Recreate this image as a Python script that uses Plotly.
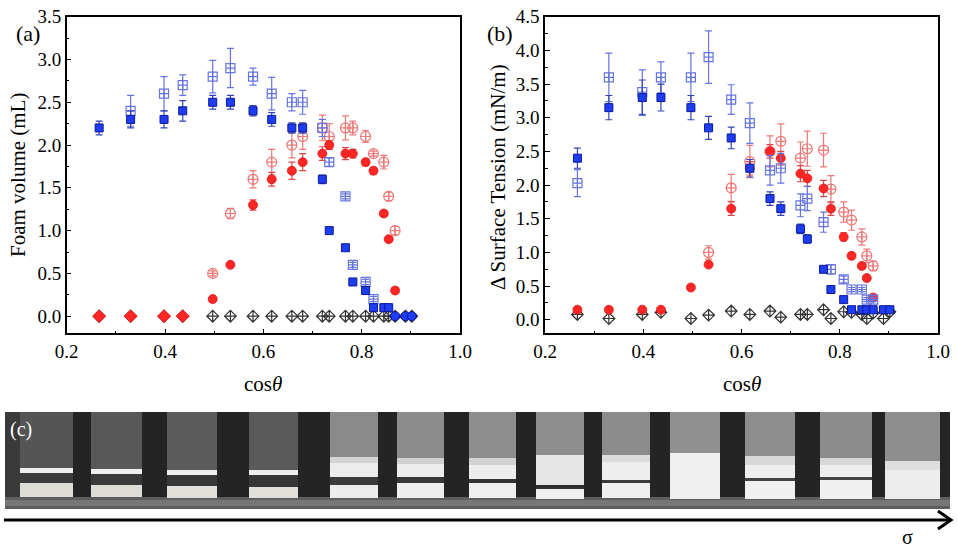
import plotly.graph_objects as go

W, H = 957, 548

# cos(theta) of the 21 samples
cos_theta = [0.266, 0.330, 0.398, 0.436, 0.497, 0.533, 0.579, 0.617, 0.658, 0.680, 0.720,
             0.734, 0.767, 0.782, 0.808, 0.824, 0.845, 0.855, 0.868, 0.889, 0.902]

# (a) foam volume (mL)
foam_blue = [2.2, 2.3, 2.3, 2.4, 2.5, 2.5, 2.4, 2.3, 2.2, 2.2, 1.6,
             1.0, 0.8, 0.4, 0.3, 0.1, 0.1, 0.1, 0.0, 0.0, 0.0]
foam_blue_err = [0.08, 0.1, 0.1, 0.12, 0.08, 0.08, 0.06, 0.08, 0.06, 0.06, 0.05,
                 0.03, 0.02, 0.02, 0.02, 0.02, 0.02, 0.02, 0, 0, 0]
foam_blue_open = [None, 2.4, 2.6, 2.7, 2.8, 2.9, 2.8, 2.6, 2.5, 2.5, 2.2,
                  1.8, 1.4, 0.6, 0.4, 0.2, None, None, None, None, None]
foam_blue_open_err = [0, 0.18, 0.2, 0.12, 0.19, 0.23, 0.1, 0.19, 0.1, 0.14, 0.1,
                      0.05, 0.03, 0.03, 0.03, 0.03, 0, 0, 0, 0, 0]
foam_red = [0.0, 0.0, 0.0, 0.0, 0.2, 0.6, 1.3, 1.6, 1.7, 1.8, 1.9,
            2.0, 1.9, 1.9, 1.8, 1.7, 1.2, 0.9, 0.3, None, None]
foam_red_err = [0, 0, 0, 0, 0.02, 0.03, 0.06, 0.08, 0.1, 0.1, 0.08,
                0.05, 0.07, 0.05, 0.04, 0.04, 0.03, 0.03, 0.03, 0, 0]
foam_red_open = [None, None, None, None, 0.5, 1.2, 1.6, 1.8, 2.0, 2.1, 2.2,
                 2.1, 2.2, 2.2, 2.1, 1.9, 1.8, 1.4, 1.0, None, None]
foam_red_open_err = [0, 0, 0, 0, 0.03, 0.06, 0.1, 0.15, 0.15, 0.15, 0.15,
                     0.15, 0.14, 0.08, 0.07, 0.03, 0.08, 0.05, 0.05, 0, 0]
foam_black = [0.0] * 21

# (b) surface tension change (mN/m)
st_blue = [2.4, 3.15, 3.3, 3.3, 3.15, 2.85, 2.7, 2.25, 1.8, 1.65, 1.35,
           1.2, 0.75, 0.45, 0.3, 0.15, 0.15, 0.15, 0.15, 0.15, 0.15]
st_blue_err = [0.15, 0.18, 0.26, 0.2, 0.18, 0.17, 0.16, 0.13, 0.1, 0.1, 0.07,
               0.06, 0.03, 0.03, 0.03, 0.03, 0.03, 0.03, 0.03, 0.03, 0.03]
st_blue_open = [2.03, 3.6, 3.38, 3.6, 3.6, 3.9, 3.27, 2.92, 2.22, 2.25, 1.7,
                1.8, 1.45, 0.75, 0.6, 0.45, 0.45, 0.3, 0.3, None, None]
st_blue_open_err = [0.2, 0.36, 0.33, 0.23, 0.36, 0.39, 0.22, 0.3, 0.22, 0.22, 0.17,
                    0.18, 0.15, 0.07, 0.05, 0.03, 0.03, 0.03, 0.03, 0, 0]
st_red = [0.15, 0.15, 0.15, 0.15, 0.48, 0.82, 1.65, 2.25, 2.5, 2.4, 2.17,
          2.1, 1.95, 1.65, 1.23, 0.95, 0.8, 0.62, 0.33, None, None]
st_red_err = [0, 0, 0, 0, 0.02, 0.03, 0.1, 0.1, 0.1, 0.1, 0.12,
              0.12, 0.12, 0.1, 0.06, 0.04, 0.04, 0.04, 0.04, 0, 0]
st_red_open = [None, None, None, None, None, 1.0, 1.96, 2.35, 2.5, 2.65, 2.4,
               2.54, 2.52, 1.94, 1.6, 1.48, 1.23, 0.95, 0.8, None, None]
st_red_open_err = [0, 0, 0, 0, 0, 0.1, 0.2, 0.24, 0.23, 0.26, 0.24,
                   0.26, 0.25, 0.2, 0.15, 0.15, 0.12, 0.1, 0.07, 0, 0]
st_black = [0.08, 0.02, 0.08, 0.11, 0.02, 0.07, 0.13, 0.08, 0.13, 0.04, 0.08,
            0.08, 0.15, 0.02, 0.12, 0.11, 0.08, 0.02, 0.1, 0.02, 0.12]

BLUE = "#1e3cf0"
BLUE_LT = "#6674e0"
RED = "#ff2626"
RED_LT = "#ee7878"
FONT = "Liberation Serif"


def series(y, err, xa, ya, symbol, size, color, line_color, err_color, line_width=1.2):
    return go.Scatter(
        x=cos_theta, y=y, xaxis=xa, yaxis=ya, mode="markers",
        marker=dict(symbol=symbol, size=size, color=color, opacity=1,
                    line=dict(color=line_color, width=line_width)),
        error_y=dict(type="data", array=err, color=err_color, thickness=1.2, width=3.5)
        if err is not None else None,
        showlegend=False, hoverinfo="x+y",
    )


fig = go.Figure()

# panel (a)
fig.add_trace(series(foam_black, None, "x", "y", "diamond-cross-open", 9, "#333333", "#333333", None))
fig.add_trace(series(foam_red_open, foam_red_open_err, "x", "y", "circle-cross-open", 10, RED_LT, RED_LT, RED_LT))
fig.add_trace(series(foam_red, foam_red_err, "x", "y",
                     ["diamond" if v == 0 else "circle" for v in foam_red],
                     [10 if v == 0 else 9 for v in foam_red], RED, "#e01818", "#e04848", 0.8))
fig.add_trace(series(foam_blue_open, foam_blue_open_err, "x", "y", "square-cross-open", 9, BLUE_LT, BLUE_LT, BLUE_LT))
fig.add_trace(series(foam_blue, foam_blue_err, "x", "y",
                     ["circle" if v == 0 else "square" for v in foam_blue],
                     [9 if v == 0 else 8 for v in foam_blue], BLUE, "#0a1a9a", "#3444b8", 1))

# panel (b)
fig.add_trace(series(st_black, None, "x2", "y2", "diamond-cross-open", 9, "#333333", "#333333", None))
fig.add_trace(series(st_red_open, st_red_open_err, "x2", "y2", "circle-cross-open", 10, RED_LT, RED_LT, RED_LT))
fig.add_trace(series(st_red, st_red_err, "x2", "y2", "circle", 9, RED, "#e01818", "#e04848", 0.8))
fig.add_trace(series(st_blue_open, st_blue_open_err, "x2", "y2", "square-cross-open", 9, BLUE_LT, BLUE_LT, BLUE_LT))
fig.add_trace(series(st_blue, st_blue_err, "x2", "y2", "square", 8, BLUE, "#0a1a9a", "#3444b8", 1))

Y_DOM = [1 - 333.3 / H, 1 - 16.7 / H]
axis_common = dict(
    showline=True, mirror=True, linecolor="black", linewidth=1.5,
    ticks="inside", ticklen=5, tickwidth=1.2, tickcolor="black",
    showgrid=False, zeroline=False, automargin=False,
    tickfont=dict(family=FONT, size=19, color="black"),
)
fig.update_layout(
    width=W, height=H, margin=dict(l=0, r=0, t=0, b=0),
    paper_bgcolor="white", plot_bgcolor="white",
    xaxis=dict(domain=[66.7 / W, 460 / W], range=[0.2, 1.0], dtick=0.2, tickformat=".1f",
               minor=dict(ticks="inside", ticklen=3, dtick=0.1, tickcolor="black"),
               anchor="y", **axis_common),
    yaxis=dict(domain=Y_DOM, range=[-0.2, 3.5], dtick=0.5, tickformat=".1f",
               minor=dict(ticks="inside", ticklen=3, dtick=0.25, tickcolor="black"),
               anchor="x", **axis_common),
    xaxis2=dict(domain=[545 / W, 938 / W], range=[0.2, 1.0], dtick=0.2, tickformat=".1f",
                minor=dict(ticks="inside", ticklen=3, dtick=0.1, tickcolor="black"),
                anchor="y2", **axis_common),
    yaxis2=dict(domain=Y_DOM, range=[-0.2, 4.5], dtick=0.5, tickformat=".1f",
                minor=dict(ticks="inside", ticklen=3, dtick=0.25, tickcolor="black"),
                anchor="x2", **axis_common),
)


def px(x):
    return x / W


def py(y):
    return 1 - y / H


def text(x, y, s, size, color="black", angle=0):
    fig.add_annotation(x=px(x), y=py(y), xref="paper", yref="paper", text=s, showarrow=False,
                       textangle=angle, xanchor="center", yanchor="middle",
                       font=dict(family=FONT, size=size, color=color))


text(28, 33, "(a)", 22)
text(500, 33, "(b)", 22)
text(18, 175, "Foam volume (mL)", 21, angle=-90)
text(498, 177, "Δ Surface Tension (mN/m)", 21, angle=-90)
text(263, 384, "cos<i>θ</i>", 21)
text(742, 384, "cos<i>θ</i>", 21)


# (c) photo strip drawn with shapes
def box(x0, y0, x1, y1, color):
    fig.add_shape(type="rect", xref="paper", yref="paper",
                  x0=px(x0), x1=px(x1), y0=py(y1), y1=py(y0),
                  fillcolor=color, line=dict(width=0), layer="above")


box(5, 412, 950, 509, "#242424")
box(5, 412, 20, 497, "#3a3a3a")
box(5, 497, 950, 509, "#5e5e5e")
box(5, 500, 950, 506, "#767676")

# tube edges and band layout (top of each band, colour), last value is the bottom
tubes = [
    (20, 73, [(412, "#555555"), (468, "#efefef"), (473, "#3c3c3c"), (483, "#dedcd6")], 497),
    (91, 142, [(412, "#585858"), (469, "#efefef"), (474, "#3a3a3a"), (485, "#dedcd6")], 497),
    (167, 217, [(412, "#5c5c5c"), (470, "#efefef"), (475, "#383838"), (486, "#e2e0da")], 498),
    (249, 298, [(412, "#5a5a5a"), (470, "#eeeeee"), (475, "#363636"), (487, "#e2e0da")], 498),
    (330, 378, [(412, "#8a8a8a"), (457, "#d4d4d4"), (463, "#ececec"), (477, "#3a3a3a"), (485, "#ededed")], 498),
    (397, 444, [(412, "#8c8c8c"), (458, "#d0d0d0"), (464, "#ececec"), (477, "#383838"), (483, "#eeeeee")], 498),
    (469, 516, [(412, "#8e8e8e"), (458, "#d2d2d2"), (465, "#ededed"), (479, "#333333"), (483, "#efefef")], 498),
    (536, 584, [(412, "#8e8e8e"), (455, "#e6e6e6"), (485, "#2e2e2e"), (489, "#efefef")], 499),
    (602, 650, [(412, "#8c8c8c"), (455, "#dcdcdc"), (462, "#eeeeee"), (480, "#3a3a3a"), (483, "#f0f0f0")], 498),
    (670, 720, [(412, "#909090"), (453, "#efefef")], 499),
    (745, 795, [(412, "#8e8e8e"), (456, "#d8d8d8"), (465, "#eeeeee"), (478, "#444444"), (481, "#f0f0f0")], 499),
    (820, 872, [(412, "#8c8c8c"), (458, "#d8d8d8"), (465, "#eeeeee"), (477, "#444444"), (480, "#f0f0f0")], 499),
    (885, 940, [(412, "#8e8e8e"), (461, "#dedede"), (470, "#ececec")], 499),
]
for x0, x1, bands, bottom in tubes:
    tops = [b[0] for b in bands] + [bottom]
    for i, (top, color) in enumerate(bands):
        box(x0, top, x1, tops[i + 1], color)

text(21, 429, "(c)", 20, color="white")

# sigma arrow
fig.add_shape(type="line", xref="paper", yref="paper", x0=px(4), x1=px(949), y0=py(520), y1=py(520),
              line=dict(color="black", width=3))
fig.add_shape(type="path", xref="paper", yref="paper",
              path=f"M {px(938)} {py(511)} L {px(951)} {py(520)} L {px(938)} {py(529)}",
              line=dict(color="black", width=3))
text(907, 537, "σ", 20)

# page has a default 8px body margin; drop it so the 957x548 figure fills the window
fig.write_html("out.html", config={"displayModeBar": False},
               post_script="document.body.style.margin='0px';")
